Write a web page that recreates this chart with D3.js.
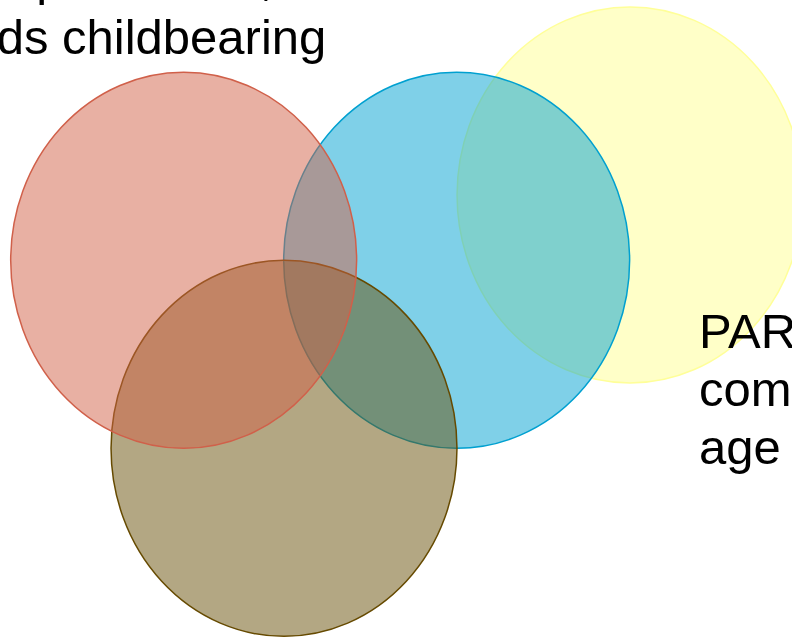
<html>
<head>
  <script src="https://d3js.org/d3.v7.min.js"></script>
  <style>
    body { margin: 0; background: #fff; }
    .label { font-family: "Liberation Sans", Arial, sans-serif; font-size: 49px; fill: #000; }
    .set { stroke-width: 1.5px; fill-opacity: 0.5; }
  </style>
</head>
<body>
  <svg id="venn" width="792" height="638"></svg>
  <script>
    // sets in drawing order (bottom first), centres in % of the canvas
    const sets = ["partnership", "career", "income", "parenthood"];
    const centreX = [79.55, 57.66, 35.86, 23.19];
    const centreY = [30.56, 40.80, 70.27, 40.80];
    const setColors = ["#ffff91", "#00a1d1", "#674f07", "#d16147"];
    const strokeColors = ["#ffff99", "#00a0d0", "#664a00", "#d0604a"];

    // text blocks, partly running off the canvas
    const leftLines = ["Parenthood: expectations,", "attitudes towards childbearing"];
    const rightLines = ["PARTNERSHIP:", "commitment,", "age at union"];

    const svg = d3.select("#venn");
    const width = +svg.attr("width");
    const height = +svg.attr("height");

    const xScale = d3.scaleLinear().domain([0, 100]).range([0, width]);
    const yScale = d3.scaleLinear().domain([0, 100]).range([0, height]);
    const rx = xScale(21.84);
    const ry = yScale(29.47);

    svg.selectAll("ellipse.set").data(sets)
      .join("ellipse").attr("class", "set")
      .attr("cx", (d, i) => xScale(centreX[i]))
      .attr("cy", (d, i) => yScale(centreY[i]))
      .attr("rx", rx)
      .attr("ry", ry)
      .style("fill", (d, i) => setColors[i])
      .style("stroke", (d, i) => strokeColors[i]);

    const lineGap = 59;

    // left label: each line placed so the clipped part lines up
    const leftX = [-296, -322];
    svg.append("text").attr("class", "label")
      .selectAll("tspan").data(leftLines)
      .join("tspan")
      .attr("x", (d, i) => leftX[i])
      .attr("y", (d, i) => 54 - lineGap * (leftLines.length - 1 - i))
      .text(d => d);

    svg.append("text").attr("class", "label")
      .selectAll("tspan").data(rightLines)
      .join("tspan")
      .attr("x", 699)
      .attr("y", (d, i) => 348 + 58 * i)
      .text(d => d);
  </script>
</body>
</html>
